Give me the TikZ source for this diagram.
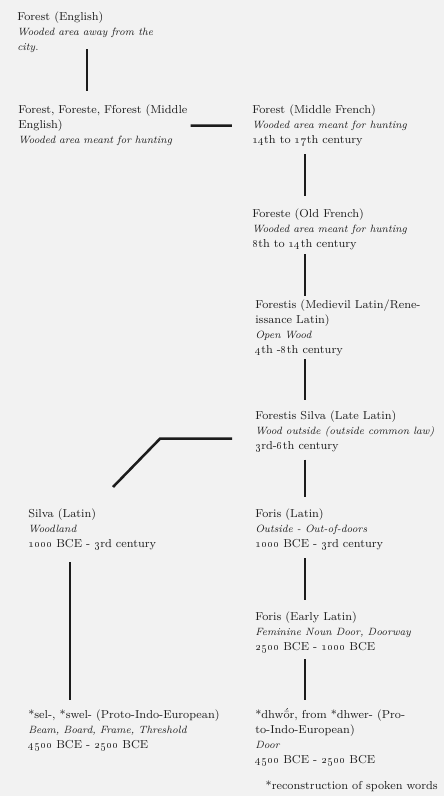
\documentclass[tikz,border=0pt]{standalone}
\usepackage{tikz}
\definecolor{paper}{RGB}{242,242,242}
\definecolor{ink}{RGB}{28,28,28}
% meanings are set a little smaller, in italics
\newcommand\sense[1]{{\fontsize{7.5}{10.6}\selectfont\itshape #1}}
\newcommand\osn[1]{\oldstylenums{#1}}

\begin{document}
\begin{tikzpicture}[x=0.025cm, y=-0.025cm,
  word/.style={anchor=north west, inner sep=0pt, align=left, text=ink,
    font=\fontsize{8.2}{10.6}\selectfont},
  link/.style={line width=1.8pt, draw=ink}]
  \fill[paper] (0,0) rectangle (444,796);
  \useasboundingbox (0,0) rectangle (444,796);
  % x positions of the vertical strokes
  \coordinate (stem) at (87,0);
  \coordinate (spine) at (305,0);
  \coordinate (root) at (70,0);
  % English and French line
  \node[word] (eng) at (17,12) {Forest (English)\\
    \sense{Wooded area away from the}\\ \sense{city.}};
  \node[word, text width=4.3cm] (me) at (18,105) {Forest, Foreste, Fforest (Middle\\
    English)\\ \sense{Wooded area meant for hunting}};
  \node[word] (mfr) at (252,105) {Forest (Middle French)\\
    \sense{Wooded area meant for hunting}\\ \osn{14}th to \osn{17}th century};
  \node[word] (ofr) at (252,209) {Foreste (Old French)\\
    \sense{Wooded area meant for hunting}\\ \osn{8}th to \osn{14}th century};
  % Latin line
  \node[word] (fml) at (255,300) {Forestis (Medievil Latin/Rene-\\
    issance Latin)\\ \sense{Open Wood}\\ \osn{4}th -\osn{8}th century};
  \node[word] (fsl) at (255,411) {Forestis Silva (Late Latin)\\
    \sense{Wood outside (outside common law)}\\ \osn{3}rd-\osn{6}th century};
  \node[word] (silva) at (28,509) {Silva (Latin)\\
    \sense{Woodland}\\ \osn{1000} BCE - \osn{3}rd century};
  \node[word] (foris) at (255,509) {Foris (Latin)\\
    \sense{Outside - Out-of-doors}\\ \osn{1000} BCE - \osn{3}rd century};
  \node[word] (fel) at (255,612) {Foris (Early Latin)\\
    \sense{Feminine Noun Door, Doorway}\\ \osn{2500} BCE - \osn{1000} BCE};
  % Proto-Indo-European roots
  \node[word] (pie) at (28,710) {*sel-, *swel- (Proto-Indo-European)\\
    \sense{Beam, Board, Frame, Threshold}\\ \osn{4500} BCE - \osn{2500} BCE};
  \node[word] (dhw) at (255,710) {*dhw\ooalign{\=o\cr\hidewidth\raisebox{0.5ex}{\textasciiacute}\hidewidth\cr}r, from *dhwer- (Pro-\\
    to-Indo-European)\\ \sense{Door}\\ \osn{4500} BCE - \osn{2500} BCE};
  \node[word, anchor=north east] (note) at (438,781) {*reconstruction of spoken words};

  \draw[link, shorten <=-0.1cm, shorten >=0.35cm] (eng.south -| stem) -- (me.north -| stem);
  \draw[link, shorten >=0.5cm] (me.east) -- (mfr.west);
  \draw[link, shorten <=0.2cm, shorten >=0.33cm] (mfr.south -| spine) -- (ofr.north -| spine);
  \draw[link, shorten <=0.1cm, shorten >=0.1cm] (ofr.south -| spine) -- (fml.north -| spine);
  \draw[link, shorten <=0.08cm, shorten >=0.28cm] (fml.south -| spine) -- (fsl.north -| spine);
  \draw[link, shorten <=0.18cm, shorten >=0.3cm] (fsl.south -| spine) -- (foris.north -| spine);
  \draw[link, shorten <=0.2cm, shorten >=0.3cm] (foris.south -| spine) -- (fel.north -| spine);
  \draw[link, shorten <=0.15cm, shorten >=0.25cm] (fel.south -| spine) -- (dhw.north -| spine);
  \draw[link, shorten <=0.3cm, shorten >=0.25cm] (silva.south -| root) -- (pie.north -| root);
  % elbow over to Silva
  \draw[link] ([shift={(-23,7)}]fsl.west) -- ++(-72,0) -- ([shift={(85,-22)}]silva.north west);
\end{tikzpicture}
\end{document}
